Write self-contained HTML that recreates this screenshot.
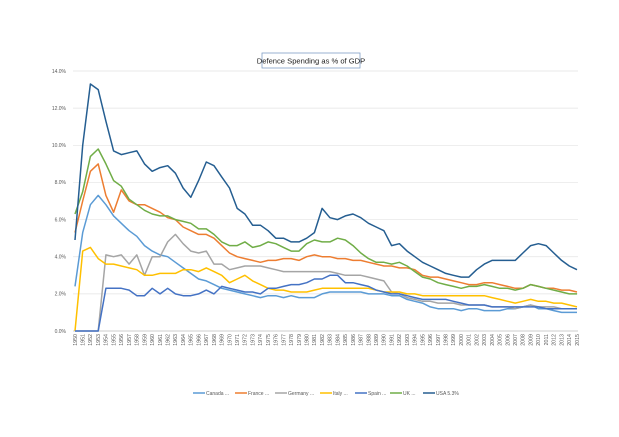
<!DOCTYPE html><html><head><style>body{margin:0;background:#fff}svg{display:block}</style></head><body>
<svg id="s" width="619" height="437" xmlns="http://www.w3.org/2000/svg" font-family="Liberation Sans, sans-serif"></svg>
<script>
const D={
"#5b9bd5":[2.4,5.3,6.8,7.3,6.8,6.2,5.8,5.4,5.1,4.6,4.3,4.1,4.0,3.7,3.4,3.1,2.8,2.7,2.5,2.3,2.2,2.1,2.0,1.9,1.8,1.9,1.9,1.8,1.9,1.8,1.8,1.8,2.0,2.1,2.1,2.1,2.1,2.1,2.0,2.0,2.0,1.9,1.9,1.7,1.6,1.5,1.3,1.2,1.2,1.2,1.1,1.2,1.2,1.1,1.1,1.1,1.2,1.2,1.3,1.4,1.2,1.2,1.1,1.0,1.0,1.0],
"#a5a5a5":[0,0,0,0,4.1,4.0,4.1,3.6,4.1,3.0,4.0,4.0,4.8,5.2,4.7,4.3,4.2,4.3,3.6,3.6,3.3,3.4,3.5,3.5,3.5,3.4,3.3,3.2,3.2,3.2,3.2,3.2,3.2,3.2,3.1,3.0,3.0,3.0,2.9,2.8,2.7,2.1,2.0,1.8,1.7,1.6,1.6,1.5,1.5,1.5,1.4,1.4,1.4,1.4,1.3,1.3,1.3,1.2,1.3,1.4,1.3,1.3,1.3,1.2,1.2,1.2],
"#ffc000":[0,4.3,4.5,3.9,3.6,3.6,3.5,3.4,3.3,3.0,3.0,3.1,3.1,3.1,3.3,3.3,3.2,3.4,3.2,3.0,2.6,2.8,3.0,2.7,2.5,2.3,2.2,2.2,2.1,2.1,2.1,2.2,2.3,2.3,2.3,2.3,2.3,2.3,2.3,2.2,2.1,2.1,2.1,2.0,2.0,1.9,1.9,1.9,1.9,1.9,1.9,1.9,1.9,1.9,1.8,1.7,1.6,1.5,1.6,1.7,1.6,1.6,1.5,1.5,1.4,1.3],
"#4472c4":[0,0,0,0,2.3,2.3,2.3,2.2,1.9,1.9,2.3,2.0,2.3,2.0,1.9,1.9,2.0,2.2,2.0,2.4,2.3,2.2,2.1,2.1,2.0,2.3,2.3,2.4,2.5,2.5,2.6,2.8,2.8,3.0,3.0,2.6,2.6,2.5,2.4,2.2,2.1,2.0,2.0,1.9,1.8,1.7,1.7,1.7,1.7,1.6,1.5,1.4,1.4,1.4,1.3,1.3,1.3,1.3,1.3,1.3,1.3,1.2,1.2,1.2,1.2,1.2],
"#ed7d31":[5.3,7.0,8.6,9.0,7.3,6.4,7.6,7.0,6.8,6.8,6.6,6.4,6.1,6.0,5.6,5.4,5.2,5.2,5.0,4.6,4.2,4.0,3.9,3.8,3.7,3.8,3.8,3.9,3.9,3.8,4.0,4.1,4.0,4.0,3.9,3.9,3.8,3.8,3.7,3.6,3.5,3.5,3.4,3.4,3.3,3.0,2.9,2.9,2.8,2.7,2.6,2.5,2.5,2.6,2.6,2.5,2.4,2.3,2.3,2.5,2.4,2.3,2.3,2.2,2.2,2.1],
"#70ad47":[6.3,7.5,9.4,9.8,9.0,8.1,7.8,7.1,6.8,6.5,6.3,6.2,6.2,6.0,5.9,5.8,5.5,5.5,5.2,4.8,4.6,4.6,4.8,4.5,4.6,4.8,4.7,4.5,4.3,4.3,4.7,4.9,4.8,4.8,5.0,4.9,4.6,4.2,3.9,3.7,3.7,3.6,3.7,3.5,3.2,2.9,2.8,2.6,2.5,2.4,2.3,2.4,2.4,2.5,2.4,2.3,2.3,2.2,2.3,2.5,2.4,2.3,2.2,2.1,2.0,2.0],
"#255e91":[4.9,10.0,13.3,13.0,11.3,9.7,9.5,9.6,9.7,9.0,8.6,8.8,8.9,8.5,7.7,7.2,8.1,9.1,8.9,8.3,7.7,6.6,6.3,5.7,5.7,5.4,5.0,5.0,4.8,4.8,5.0,5.3,6.6,6.1,6.0,6.2,6.3,6.1,5.8,5.6,5.4,4.6,4.7,4.3,4.0,3.7,3.5,3.3,3.1,3.0,2.9,2.9,3.3,3.6,3.8,3.8,3.8,3.8,4.2,4.6,4.7,4.6,4.2,3.8,3.5,3.3]};
const x0=75,dx=(577-75)/65,y=v=>331-v*18.57;let h='';
for(let i=0;i<=7;i++){const yy=y(i*2);h+=`<line x1="73" x2="578" y1="${yy}" y2="${yy}" stroke="${i?'#e3e3e3':'#bbb'}" stroke-width="0.7"/><text x="66" y="${yy+1.8}" font-size="5" fill="#595959" text-anchor="end">${(i*2).toFixed(1)}%</text>`;}
for(let i=0;i<66;i++){const xx=x0+i*dx;h+=`<text transform="translate(${xx+1.8},334) rotate(-90)" font-size="5.3" fill="#595959" text-anchor="end">${1950+i}</text>`;}
for(const c in D){h+=`<polyline fill="none" stroke="${c}" stroke-width="1.5" stroke-linejoin="round" points="${D[c].map((v,i)=>(x0+i*dx).toFixed(1)+','+y(v).toFixed(1)).join(' ')}"/>`;}
h+=`<rect x="262" y="53" width="98" height="15" fill="#fff" stroke="#7f9fc6" stroke-width="0.8"/><text x="311" y="63.5" font-size="7.6" text-anchor="middle" fill="#222">Defence Spending as % of GDP</text>`;
const L=[["#5b9bd5","Canada ..."],["#ed7d31","France ..."],["#a5a5a5","Germany ..."],["#ffc000","Italy ..."],["#4472c4","Spain ..."],["#70ad47","UK ..."],["#255e91","USA 5.3%"]],lx=[193,235,275,320,355,390,423];
L.forEach((l,i)=>{h+=`<line x1="${lx[i]}" x2="${lx[i]+12}" y1="393" y2="393" stroke="${l[0]}" stroke-width="1.5"/><text x="${lx[i]+13}" y="395" font-size="5" fill="#595959">${l[1]}</text>`;});
document.getElementById('s').innerHTML=h;
</script></body></html>
